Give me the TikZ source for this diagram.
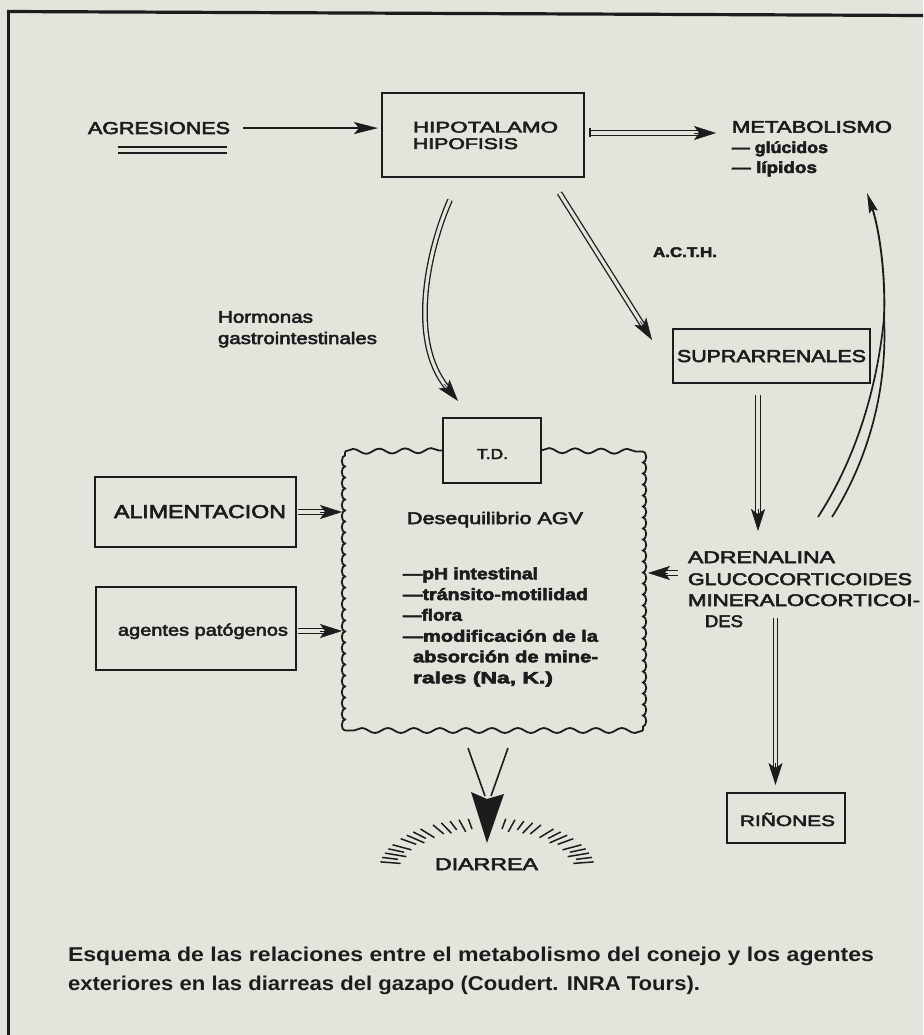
\documentclass[tikz,border=0pt]{standalone}
\usepackage{fontspec}
\setmainfont{Liberation Sans}
\newfontfamily\medf{Liberation Sans}[FakeBold=3]
\usetikzlibrary{arrows.meta,decorations.pathmorphing,calc}
\definecolor{paper}{RGB}{228,228,221}
\definecolor{ink}{RGB}{28,28,28}
\newcommand{\tw}[2]{\resizebox{#1pt}{\height}{#2}}
\newcommand{\fs}[1]{\fontsize{#1}{#1}\selectfont}
\tikzset{
  lbl/.style={inner sep=0pt, outer sep=0pt, text=ink, anchor=base west, font=\medf},
  boxn/.style={draw=ink, line width=2pt, inner sep=0pt, outer sep=0pt},
  dbl/.style={draw=ink, line width=1.3pt, double=paper, double distance=3.2pt},
  tipd/.style={draw=ink, line width=0.6pt, -{Stealth[length=22pt,width=14pt,inset=5pt]}},
  sarr/.style={draw=ink, line width=1.8pt, -{Stealth[length=24pt,width=12pt,inset=5pt]}},
  wavyh/.style={draw=ink, line width=1.8pt, decorate, decoration={snake, segment length=26pt, amplitude=2.5pt}},
  wavyv/.style={draw=ink, line width=1.8pt, decorate, decoration={bumps, segment length=22pt, amplitude=3.2pt}},
  ray/.style={draw=ink, line width=1.5pt},
}
\begin{document}
\begin{tikzpicture}[x=1pt,y=-1pt]
\useasboundingbox (0,0) rectangle (923,1035);
\fill[paper] (0,0) rectangle (923,1035);
% frame
\draw[ink, line width=3.2pt] (7,11.5) -- (923,15.5);
\draw[ink, line width=2.5pt] (8.5,10) -- (8.5,1035);

% boxes
\node[boxn, minimum width=202pt, minimum height=84pt] (hip) at (483,135) {};
\node[boxn, minimum width=197pt, minimum height=54pt] (supr) at (771.5,356) {};
\node[boxn, minimum width=98pt, minimum height=65pt] (td) at (492,450.5) {};
\node[boxn, minimum width=201pt, minimum height=70pt] (alim) at (195.5,512) {};
\node[boxn, minimum width=200pt, minimum height=83pt] (agen) at (196,628.5) {};
\node[boxn, minimum width=118pt, minimum height=50pt] (rin) at (786,818) {};
\node[inner sep=0pt, outer sep=0pt, minimum width=298pt, minimum height=279pt] (agv) at (494,591) {};

% texts
\node[lbl] (agres) at (88,134) {\fs{17.2}\tw{142}{AGRESIONES}};
\node[lbl] (hipo1) at (413,132.5) {\fs{15.4}\tw{145}{HIPOTALAMO}};
\node[lbl] (hipo2) at (413,149) {\fs{15.4}\tw{105}{HIPOFISIS}};
\node[lbl] (metab) at (732,132.7) {\fs{16.8}\tw{160}{METABOLISMO}};
\node[lbl] (gluc) at (732,153) {\fs{16}\bfseries\tw{96}{— glúcidos}};
\node[lbl] (lip) at (732,173) {\fs{16}\bfseries\tw{85}{— lípidos}};
\node[lbl] (acth) at (653,257) {\fs{14}\bfseries\tw{64}{A.C.T.H.}};
\node[lbl] (suprt) at (677,362) {\fs{17.2}\tw{189}{SUPRARRENALES}};
\node[lbl] (horm1) at (218,322.7) {\fs{16.8}\tw{95}{Hormonas}};
\node[lbl] (horm2) at (218,344) {\fs{16.8}\tw{159}{gastrointestinales}};
\node[lbl] (tdt) at (477,459) {\fs{14.5}\tw{31}{T.D.}};
\node[lbl] (deseq) at (407,524) {\fs{16.8}\tw{176}{Desequilibrio AGV}};
\node[lbl] (l1) at (403,579.3) {\fs{16.3}\bfseries\tw{135}{—pH intestinal}};
\node[lbl] (l2) at (403,600) {\fs{16.3}\bfseries\tw{185}{—tránsito-motilidad}};
\node[lbl] (l3) at (403,620.7) {\fs{16.3}\bfseries\tw{59}{—flora}};
\node[lbl] (l4) at (403,641.7) {\fs{16.3}\bfseries\tw{195}{—modificación de la}};
\node[lbl] (l5) at (413,662.3) {\fs{16.3}\bfseries\tw{185}{absorción de mine-}};
\node[lbl] (l6) at (413,683.3) {\fs{16.3}\bfseries\tw{140}{rales (Na, K.)}};
\node[lbl] (alimt) at (114,518) {\fs{18.6}\tw{172}{ALIMENTACION}};
\node[lbl] (agent) at (118,635.7) {\fs{16.5}\tw{170}{agentes patógenos}};
\node[lbl] (adr1) at (688,563) {\fs{16.8}\tw{147}{ADRENALINA}};
\node[lbl] (adr2) at (688,585) {\fs{16.8}\tw{224}{GLUCOCORTICOIDES}};
\node[lbl] (adr3) at (688,606) {\fs{16.8}\tw{232}{MINERALOCORTICOI-}};
\node[lbl] (adr4) at (705,627) {\fs{16.8}\tw{38}{DES}};
\node[lbl] (rint) at (740,826) {\fs{15}\tw{95}{RIÑONES}};
\node[lbl] (diar) at (435,870) {\fs{17}\tw{103}{DIARREA}};
\node[lbl, font=\rmfamily] (cap1) at (68,961.7) {\fs{20}\bfseries\tw{806}{Esquema de las relaciones entre el metabolismo del conejo y los agentes}};
\node[lbl, font=\rmfamily] (cap2) at (68,990) {\fs{20}\bfseries\tw{632}{exteriores en las diarreas del gazapo (Coudert. INRA Tours).}};

% AGRESIONES underline
\draw[ink, line width=1.5pt] (118,147) -- (227,147) (118,153) -- (227,153);

% AGRESIONES -> HIPOTALAMO
\draw[sarr] ($(agres.east)+(13,0)$) -- ($(hip.west |- agres.east)+(-4,0)$);

% HIPOTALAMO => METABOLISMO
\coordinate (hm1) at ($(hip.east)+(6,-2)$);
\coordinate (hm2) at (716,133);
\draw[dbl, shorten >=17pt] (hm1) -- (hm2);
\draw[ink, line width=1.3pt] ($(hm1)+(0,-4.5)$) -- ($(hm1)+(0,4.5)$);
\draw[tipd] ($(hm2)!22pt!(hm1)$) -- (hm2);

% HIPOTALAMO => SUPRARRENALES (A.C.T.H.)
\coordinate (hs1) at (559.5,193);
\coordinate (hs2) at (652,340);
\draw[dbl, shorten >=17pt] (hs1) -- (hs2);
\draw[tipd] ($(hs2)!22pt!(hs1)$) -- (hs2);

% HIPOTALAMO => T.D. (hormonas gastrointestinales)
\coordinate (ht1) at (450,200);
\coordinate (ht2) at (458,401);
\draw[dbl, shorten >=17pt] (ht1) .. controls (428,250) and (408,340) .. (ht2);
\draw[tipd] ($(ht2)!22pt!(408,340)$) -- (ht2);

% SUPRARRENALES => ADRENALINA
\coordinate (sa1) at ($(supr.south)+(-13.5,12)$);
\coordinate (sa2) at (758,531);
\draw[dbl, shorten >=17pt] (sa1) -- (sa2);
\draw[tipd] ($(sa2)!22pt!(sa1)$) -- (sa2);

% ADRENALINA => RIÑONES
\coordinate (ar1) at (775.5,618);
\coordinate (ar2) at (775.5,785);
\draw[dbl, shorten >=17pt] (ar1) -- (ar2);
\draw[tipd] ($(ar2)!22pt!(ar1)$) -- (ar2);

% ALIMENTACION => AGV
\coordinate (al1) at ($(alim.east)+(2,0)$);
\coordinate (al2) at ($(agv.west |- alim.east)+(-3,0)$);
\draw[dbl, shorten >=17pt] (al1) -- (al2);
\draw[tipd] ($(al2)!22pt!(al1)$) -- (al2);

% agentes => AGV
\coordinate (ag1) at ($(agen.east)+(2,2.5)$);
\coordinate (ag2) at ($(agv.west |- ag1)+(-3,0)$);
\draw[dbl, shorten >=17pt] (ag1) -- (ag2);
\draw[tipd] ($(ag2)!22pt!(ag1)$) -- (ag2);

% ADRENALINA => AGV
\coordinate (ad1) at (678,573);
\coordinate (ad2) at ($(agv.east |- ad1)+(5,0)$);
\draw[dbl, shorten >=17pt] (ad1) -- (ad2);
\draw[tipd] ($(ad2)!20pt!(ad1)$) -- (ad2);

% ADRENALINA -> METABOLISMO (curved)
\coordinate (mb1) at (818,517);
\coordinate (mb2) at (832,517);
\coordinate (mbm) at (884,318);
\coordinate (mbt) at (867,193);
\draw[ink, line width=1.7pt] (mb1) .. controls (855,460) and (877,390) .. (mbm);
\draw[ink, line width=1.7pt] (mb2) .. controls (865,465) and (888,395) .. (mbm);
\draw[ink, line width=1.9pt, -{Stealth[length=20pt,width=9pt,inset=3pt]}] (mbm) .. controls (886,270) and (878,225) .. (mbt);

% wavy AGV box
\draw[wavyh] (agv.north west) -- (td.west);
\draw[wavyh] (td.east) -- (agv.north east);
\draw[wavyv] (agv.north east) -- (agv.south east);
\draw[wavyh] (agv.south east) -- (agv.south west);
\draw[wavyv] (agv.south west) -- (agv.north west);

% AGV -> DIARREA
\coordinate (dv1) at (468,748);
\coordinate (dv2) at (508,748);
\coordinate (dvt) at (487,843);
\draw[ink, line width=1.6pt] (dv1) -- (485,796);
\draw[ink, line width=1.6pt] (dv2) -- (491,796);
\fill[ink] (471,792) -- (487,799) -- (504,794) -- (dvt) -- cycle;

% burst around DIARREA
\foreach \a/\si in {100/0.8,105/0.76,110/0.82,115/0.78,120/0.8,128/0.79,133/0.83,138/0.78,143/0.82,151/0.8,156/0.84,161/0.79,166/0.85,171/0.81,
                   80/0.8,75/0.76,70/0.82,65/0.78,60/0.8,52/0.79,47/0.83,42/0.78,37/0.82,29/0.8,24/0.84,19/0.79,14/0.85,9/0.81}
  \draw[ray] ({487+108*\si*cos(\a)},{870-52*\si*sin(\a)}) -- ({487+108*cos(\a)},{870-52*sin(\a)});
\end{tikzpicture}
\end{document}
